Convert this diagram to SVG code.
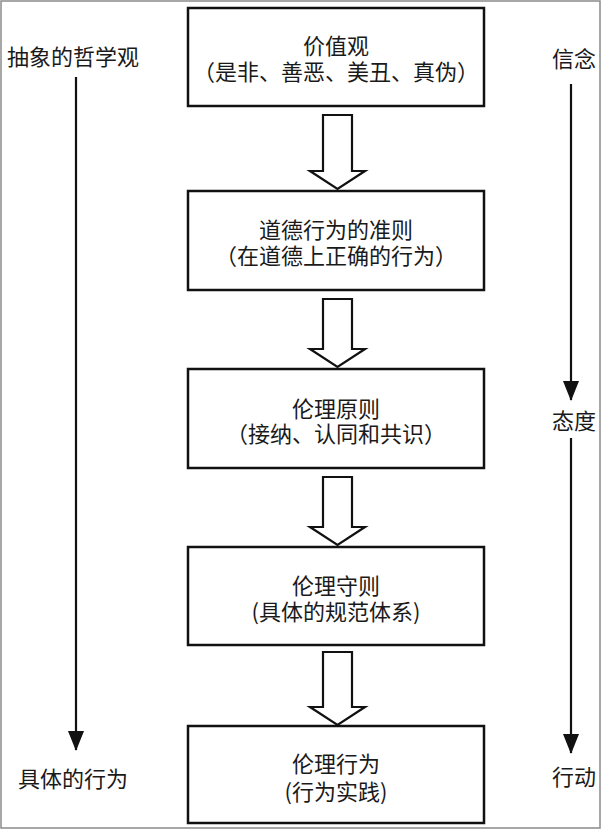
<svg xmlns="http://www.w3.org/2000/svg" width="602" height="832" viewBox="0 0 602 832">
<defs>
<style>
.box{fill:#fff;stroke:#111;stroke-width:2.5}
.t{font-family:"Noto Sans CJK SC","Noto Sans",sans-serif;font-size:22px;fill:#1a1a1a;dominant-baseline:central}
.c{text-anchor:middle}
.blk{fill:#fff;stroke:#111;stroke-width:2.2;stroke-linejoin:miter}
.ln{stroke:#111;stroke-width:2.2;fill:none}
</style>
<marker id="ah" viewBox="0 0 20 16" refX="19" refY="8" markerWidth="20" markerHeight="16" markerUnits="userSpaceOnUse" orient="auto">
<path d="M0,0 L20,8 L0,16 Z" fill="#111"/>
</marker>
</defs>
<rect x="1" y="1" width="599" height="827" fill="#fff" stroke="#8a8a8a" stroke-width="1.5"/>

<g id="box1">
<rect class="box" x="188" y="8" width="296" height="98"/>
<text class="t c" x="336" y="44">价值观</text>
<text class="t c" x="336" y="70">（是非、善恶、美丑、真伪）</text>
</g>
<g id="box2">
<rect class="box" x="188" y="191" width="296" height="99"/>
<text class="t c" x="336" y="228">道德行为的准则</text>
<text class="t c" x="336" y="254">（在道德上正确的行为）</text>
</g>
<g id="box3">
<rect class="box" x="188" y="369" width="296" height="99"/>
<text class="t c" x="336" y="407">伦理原则</text>
<text class="t c" x="336" y="432">（接纳、认同和共识）</text>
</g>
<g id="box4">
<rect class="box" x="188" y="547" width="296" height="98"/>
<text class="t c" x="336" y="584">伦理守则</text>
<text class="t c" x="336" y="610">(具体的规范体系)</text>
</g>
<g id="box5">
<rect class="box" x="188" y="726" width="296" height="97"/>
<text class="t c" x="336" y="762">伦理行为</text>
<text class="t c" x="336" y="790">(行为实践)</text>
</g>

<g id="side-labels">
<text class="t" x="7" y="55">抽象的哲学观</text>
<text class="t" x="18" y="777">具体的行为</text>
<text class="t" x="552" y="57">信念</text>
<text class="t" x="552" y="419">态度</text>
<text class="t" x="552" y="775">行动</text>
</g>

<g id="connectors">
<path class="blk" d="M323,115 H352 V171 H365 L337.5,189 L310,171 H323 Z"/>
<path class="blk" d="M323,299 H352 V349 H365 L337.5,367 L310,349 H323 Z"/>
<path class="blk" d="M323,477 H352 V527 H365 L337.5,545 L310,527 H323 Z"/>
<path class="blk" d="M323,652 H352 V707 H365 L337.5,725 L310,707 H323 Z"/>
<line class="ln" x1="76" y1="77" x2="76" y2="750" marker-end="url(#ah)"/>
<line class="ln" x1="571" y1="84" x2="571" y2="400" marker-end="url(#ah)"/>
<line class="ln" x1="571" y1="438" x2="571" y2="753" marker-end="url(#ah)"/>
</g>
</svg>
